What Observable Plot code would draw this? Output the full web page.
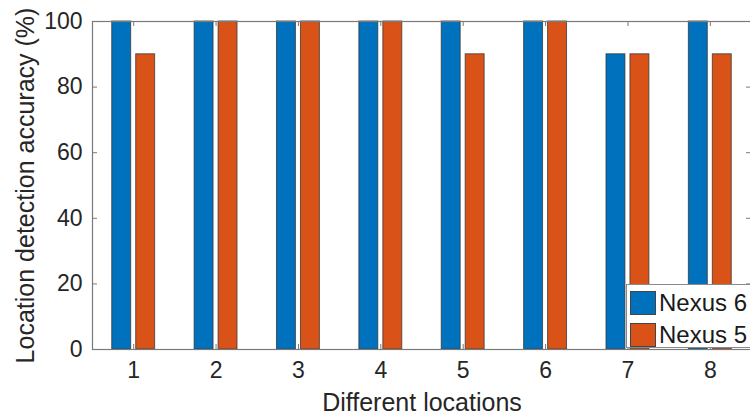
<!DOCTYPE html>
<html>
<head>
<meta charset="utf-8">
<script src="https://cdn.jsdelivr.net/npm/d3@7"></script>
<script src="https://cdn.jsdelivr.net/npm/@observablehq/plot@0.6"></script>
<style>
  html, body { margin: 0; padding: 0; background: #fff; overflow: hidden; }
  #wrap { position: relative; width: 750px; height: 416px; font-family: "Liberation Sans", Arial, sans-serif; }
  #legend { position: absolute; left: 626px; top: 284px; width: 140px; height: 64px; background: #fff; border: 1px solid #8a8a8a; box-sizing: border-box; }
  .item { position: absolute; left: 3px; display: flex; align-items: center; font-size: 24px; color: #1a1a1a; }
  .sw { width: 26px; height: 24px; box-sizing: border-box; border: 1px solid #444; margin-right: 3px; }
</style>
</head>
<body>
<div id="wrap"><div id="chart"></div><div id="legend"></div></div>
<script>
const locations = [1, 2, 3, 4, 5, 6, 7, 8];
const seriesNames = ["Nexus 6", "Nexus 5"];
const nexus6 = [100, 100, 100, 100, 100, 100, 90, 100];
const nexus5 = [90, 100, 100, 100, 90, 100, 90, 90];
const yTicks = [0, 20, 40, 60, 80, 100];
const colors = ["#0072BD", "#D95319"];

const barHalf = 0.115, groupOff = 0.1455;
const rows = [];
locations.forEach((loc, i) => {
  rows.push({loc, series: seriesNames[0], value: nexus6[i], off: -groupOff});
  rows.push({loc, series: seriesNames[1], value: nexus5[i], off: groupOff});
});

const W = 750, H = 416, mt = 21, mb = 67, ml = 92, mr = -1;
const plotW = W - ml - mr, plotH = H - mt - mb;
const tick = 5;
const axisColor = "#7a7a7a";

const chart = Plot.plot({
  width: W, height: H,
  marginTop: mt, marginBottom: mb, marginLeft: ml, marginRight: mr,
  style: {fontFamily: "'Liberation Sans', Arial, sans-serif", fontSize: "23px", color: "#262626", background: "#fff"},
  x: {type: "linear", domain: [0.5, 8.5]},
  y: {domain: [0, 100]},
  color: {domain: seriesNames, range: colors},
  marks: [
    Plot.rect(rows, {x1: d => d.loc + d.off - barHalf, x2: d => d.loc + d.off + barHalf, y1: 0, y2: "value", fill: "series", stroke: "#333", strokeOpacity: 0.75, strokeWidth: 1}),
    Plot.frame({stroke: axisColor, strokeWidth: 1.2}),
    Plot.tickX(locations, {x: d => d, insetTop: plotH - tick, stroke: axisColor}),
    Plot.tickX(locations, {x: d => d, insetBottom: plotH - tick, stroke: axisColor}),
    Plot.tickY(yTicks, {y: d => d, insetRight: plotW - tick, stroke: axisColor}),
    Plot.tickY(yTicks, {y: d => d, insetLeft: plotW - tick, stroke: axisColor}),
    Plot.axisX(locations, {tickSize: 0, tickPadding: 12, tickFormat: d => String(d), fontSize: 23, label: null}),
    Plot.axisX({tickSize: 0, ticks: [], fontSize: 25, label: "Different locations", labelAnchor: "center", labelOffset: 61, labelArrow: "none"}),
    Plot.axisY(yTicks, {tickSize: 0, tickPadding: 10, fontSize: 23, label: null}),
    Plot.axisY({tickSize: 0, ticks: [], fontSize: 25, label: "Location detection accuracy (%)", labelAnchor: "center", labelOffset: 76, labelArrow: "none"})
  ]
});
document.getElementById("chart").appendChild(chart);

const legend = document.getElementById("legend");
seriesNames.forEach((name, i) => {
  const item = document.createElement("div");
  item.className = "item";
  item.style.top = (i === 0 ? 4 : 36) + "px";
  const sw = document.createElement("div");
  sw.className = "sw";
  sw.style.background = colors[i];
  const t = document.createElement("span");
  t.textContent = name;
  item.appendChild(sw); item.appendChild(t);
  legend.appendChild(item);
});
</script>
</body>
</html>
